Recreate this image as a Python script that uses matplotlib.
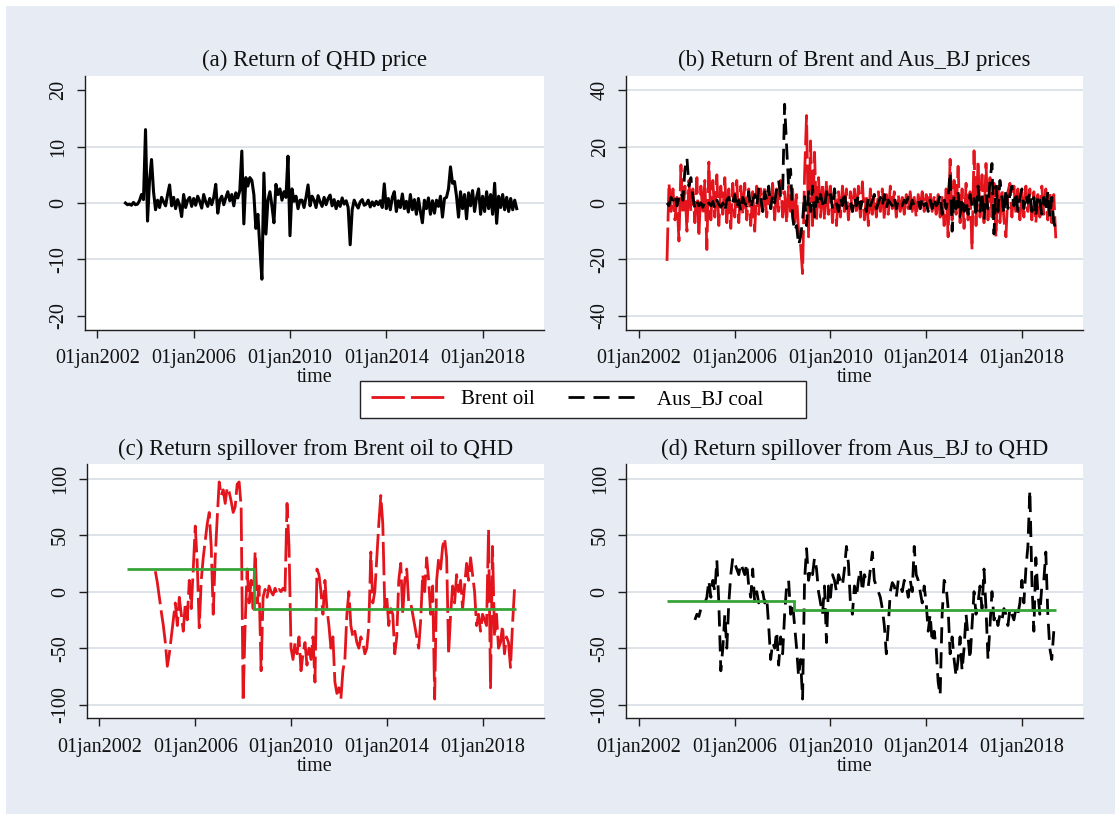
import numpy as np
import matplotlib
matplotlib.use("Agg")
import matplotlib.pyplot as plt
from matplotlib.lines import Line2D
from matplotlib.patches import Rectangle

plt.rcParams['font.family'] = ['Liberation Serif', 'DejaVu Serif']
plt.rcParams['axes.unicode_minus'] = False

# ---------------- data (monthly) ----------------
# returns: Mar 2003 .. Jun 2019
RET_START = (2003, 3)
qhd_return = [
    0.0, -0.3, -0.2, -0.4, 0.1, -0.3, -0.2, 0.4, 1.5, 0.6,                  # 2003
    13.0, -3.2, 4.0, 7.7, 2.0, -1.2, 0.5, -0.8, 1.0, 0.2, -0.5, 1.5,        # 2004
    3.2, -0.5, 1.0, -1.0, 0.6, -0.4, -2.4, 1.5, -0.8, 0.5, 1.0, -0.6,       # 2005
    0.8, -0.4, 1.2, 0.3, -0.9, 1.5, 0.2, -0.6, 0.8, -0.3, 1.0, 3.3,         # 2006
    -1.8, 0.5, 1.2, -0.3, 0.9, 2.0, 0.4, 1.5, -0.5, 1.8, 0.9, 2.2,          # 2007
    9.2, -3.7, 4.5, 3.0, 4.5, 4.0, 1.5, -4.5, -2.0, -8.0, -13.5, 5.3,       # 2008
    -5.5, 0.5, 2.0, -0.5, -3.5, 3.3, 1.5, 2.5, 0.5, 2.0, 1.0, 8.3,          # 2009
    -5.8, 2.5, 0.3, 1.2, -1.0, 0.5, 0.5, -0.8, 1.0, 3.2, -0.5, 1.2,         # 2010
    0.5, -0.8, 1.3, 0.2, -0.6, 1.0, -0.3, 0.8, 1.4, -0.5, 0.6, -1.0,        # 2011
    0.3, -0.6, 0.9, -0.2, 0.4, -0.8, -7.4, -1.2, 0.5, -0.3, -0.9, 0.2,      # 2012
    0.6, -0.4, -0.2, 0.5, -0.7, 0.2, -0.5, 0.3, -0.3, 0.4, -0.8, 3.4,       # 2013
    -1.0, 0.8, -1.2, 1.0, 2.0, -1.5, 0.4, -0.8, 1.6, -1.0, 0.3, -1.6,       # 2014
    1.5, -1.2, 0.6, -2.0, 0.8, -1.5, -3.5, 0.5, -1.0, 0.9, -2.0, 0.4,       # 2015
    -1.8, 0.5, -0.6, 1.2, -2.5, 0.8, 1.0, 2.5, 6.4, 3.5, 3.8, 1.2,          # 2016
    -2.5, 2.0, -1.0, 1.5, -2.8, 1.8, -0.5, 2.2, -1.5, 1.0, 2.5, -2.0,       # 2017
    1.2, -1.5, 2.0, -1.0, 1.5, -2.0, 3.5, -3.6, 1.2, -0.8, 1.5, -1.2,       # 2018
    1.0, -1.5, 0.8, -1.2, 0.5, -1.0,                                        # 2019
]
brent_return = [
    -20.5, 7.0, -3.0, 5.0, -6.0, 2.0, -13.5, 13.5, -4.0, 6.0,
    -10, 8, -3, 5, -7, 9, -12, 6, -4, 8, -16.5, 14.5,
    -6, 8, -5, 10, -8, 6, -4, 9, -7, 5, -9, 7,
    -5, 8, -7, 6, -4, 7, -6, 5, -8, 4, -10, 6,
    -4, 5, -3, 6, -5, 4, -2, 7, -6, 5, -3, 8,
    -5, 4, -7, 6, -3, 5, -8, 3, -10, -15, -25, 10,
    31, -12, 22, -8, 18, -6, 9, -5, 7, -6, 8, -4,
    6, -7, 5, -8, 4, -5, 6, -3, 5, -6, 4, -3,
    5, -4, 6, -5, 7.5, -6, 3, -8, 5, -4, 3, -5,
    4, -3, 5, -6, 3, -4, 6, -2, 4, -5, 3, -3,
    2, -4, 3, -2, 4, -3, 2, -5, 3, -2, 4, -3,
    3, -2, 4, -3, 2, -4, 3, -5, 2, -8, 5, -12,
    15.5, -6, 8, -4, 13, -7, 5, -9, 7, -6, 4, -16.5,
    18.5, -8, 15, -5, 10, -7, 14, -6, 9, -5, 7, -12,
    6, -7, 5, -6, -12, 4, 7, -5, 6, -4, 5, -6,
    4, -5, 6, -3, 5, -6, 4, -7, 3, -5, 6, -4,
    5, -6, 4, -7, 3, -12.5,
]
ausbj_return = [
    0, -1, 2, 1, 3, -1, 2, 4, 1, 12,
    16, 6, 9, 2, -2, 0.5, -1, 0, -1.5, 0.5, -1, 0,
    -1, 0.5, -2, 1, -0.5, -1.5, 0, -3, 1, 2, -1, 0.5,
    3, -2, 1, -3, 2, 0, -1, 4, -2, 1, 3, -1,
    5, 2, -3, 4, 1, 6, -2, 3, 0, 5, 8, 2,
    3, 35, 20, 6, 12, -5, -10, -8, -15, -12, -6, 3,
    -8, 4, -3, 6, -5, 2, -1, 3, 0, -2, 4, 1,
    3, -2, 5, 0, -3, 2, -1, 4, -2, 1, 0, -3,
    2, -1, 3, -2, 1, 0, -3, 2, -1, 1, 3, -2,
    0, 2, -1, 3, -2, 1, 0, -1, 2, -2, 1, 0,
    -1, 1, 0, 2, -2, 1, -1, 0, 1, -2, 2, -1,
    0, -3, 1, -2, 2, -1, 0, 3, -4, 1, -2, 2,
    11, -10, 3, -2, 4, -5, 2, -3, 1, -4, 3, -1,
    2, -5, 6, -3, 4, -6, 3, -2, 8, 14, -11, 6,
    -3, 8, 2, -4, 5, -2, 3, 6, -1, 4, -3, 2,
    5, -2, 3, 0, 4, -3, 2, -5, 3, 1, -4, 2,
    -3, 4, -5, 2, -7, -9,
]

# spillovers: May 2004 .. May 2019
SPILL_START = (2004, 5)
spill_brent = [
    18, 8, -5, -18, -30, -45, -66, -55,
    -40, -25, -10, -30, -5, -20, -35, -10, -25, 10, -15, 20,
    58, 25, -32, 10, 30, 45, 60, 70, 40, -20, 30, 65,
    97, 85, 90, 78, 92, 88, 80, 70, 75, 95, 97, 75,
    -97, -30, 20, -10, 10, -15, 35, -10, 5, -70, -5, 2,
    -5, 5, 0, -3, 3, -2, 2, 0, 3, 1, 78, 40,
    -50, -60, -45, -55, -40, -70, -55, -45, -65, -50, -60, -40,
    -80, 20, 15, 0, -20, 10, -15, -30, -50, -40, -80, -90,
    -85, -95, -70, -60, -20, 0, -30, -40, -35, -45, -50, -40,
    -45, -55, -50, -30, 35, -10, 0, 30, 60, 85, 60, -15,
    -5, -30, -15, -20, -55, -40, 10, 25, -20, 10, 20, -10,
    -10, -20, -30, -40, -50, -25, 15, 0, 30, 10, -20, 5,
    -95, 10, 30, 20, 40, 47, 30, -55, -20, 5, -10, 15,
    0, 10, -15, 5, 25, 10, 30, 15, 0, -30, -20, -35,
    -20, -25, -30, 55, -85, 40, -40, -20, -50, -45, -30, -55,
    -40, -45, -67, -30, 2,
]
spill_ausbj = [
    -25, -20, -22, -15, -12, -10, -5, 10,
    -5, 10, 0, 28, -10, -70, -50, -20, -50, -10, 15, 30,
    25, 20, 15, 25, 20, 15, 25, 5, -5, 20, -10, 0,
    -10, -5, 0, -10, -5, -30, -60, -45, -50, -35, -65, -40,
    -55, -20, 5, 10, -20, -10, -30, -50, -75, -60, -95, 10,
    38, 10, 20, 15, 30, 20, 0, -10, -20, 5, -45, 5,
    -5, 15, 10, 0, 15, 10, 5, 20, 40, 25, -10, -20,
    5, -5, 10, 20, 0, 15, 10, 5, 20, 35, 10, 5,
    0, -5, -15, -30, -55, -30, 0, 8, 5, -5, 10, 5,
    0, 10, 5, -5, 10, 0, 40, 15, 10, 0, -10, 5,
    -10, -35, -20, -45, -35, -50, -80, -92, -20, 10, 5, -15,
    -55, -40, -60, -75, -60, -40, -70, -50, -20, -40, -60, -30,
    0, -20, -10, 5, -15, 20, -15, -60, -30, 0, -25, -20,
    -30, -20, -25, -15, -20, -30, -15, -20, -25, -15, -20, -10,
    10, -10, 20, 40, 90, 10, -35, 30, 0, -20, 5, 10,
    35, -20, -50, -60, -35,
]

# constant (regime) spillover levels and their break dates (decimal years)
regime_brent = [20, -15]
regime_brent_edges = [2003.14, 2008.45, 2019.38]
regime_ausbj = [-8, -16]
regime_ausbj_edges = [2003.16, 2008.49, 2019.41]

tick_years = [2002, 2006, 2010, 2014, 2018]
tick_labels = ['01jan2002', '01jan2006', '01jan2010', '01jan2014', '01jan2018']

titles = ['(a) Return of QHD price', '(b) Return of Brent and Aus_BJ prices',
          '(c) Return spillover from Brent oil to QHD',
          '(d) Return spillover from Aus_BJ to QHD']
legend_labels = ['Brent oil', 'Aus_BJ coal']

# ---------------- helpers ----------------
def monthly_time(start, n):
    y, m = start
    return y + (m - 1 + np.arange(n)) / 12.0

RED = '#E3141C'
GREEN = '#36A436'
BG = '#E7EBF3'
GRID = '#DEE3EA'
AXC = '#1E1E1E'
LW = 2.0
RED_DASH = (12, 2.2)
BLK_DASH = (5.8, 3.2)

W, H = 1115, 814
fig = plt.figure(figsize=(W / 100, H / 100), dpi=100, facecolor='white')
fig.add_artist(Rectangle((6 / W, 0), 1 - 6 / W, 1 - 6 / H, transform=fig.transFigure,
                         facecolor=BG, edgecolor='none', zorder=-10))


def ax_at(x0, y0, x1, y1):
    return fig.add_axes([x0 / W, 1 - y1 / H, (x1 - x0) / W, (y1 - y0) / H])


def style(ax, yticks, ylim, grid_vals, title):
    ax.set_facecolor('white')
    for s in ('top', 'right'):
        ax.spines[s].set_visible(False)
    for s in ('left', 'bottom'):
        ax.spines[s].set_color(AXC)
        ax.spines[s].set_linewidth(1.0)
    ax.set_xlim(2001.47, 2020.55)
    ax.set_ylim(*ylim)
    ax.set_xticks(tick_years)
    ax.set_xticklabels(tick_labels)
    ax.set_yticks(yticks)
    ax.set_yticklabels([str(v) for v in yticks], rotation=90, va='center')
    ax.tick_params(direction='out', length=6, width=1.0, color=AXC,
                   labelsize=14.5, labelcolor='#111111')
    ax.tick_params(axis='x', pad=8)
    ax.tick_params(axis='y', pad=6)
    for g in grid_vals:
        ax.axhline(g, color=GRID, lw=1.4, zorder=0)
    ax.set_xlabel('time', fontsize=14.5, labelpad=0, color='#111111')
    ax.set_title(title, fontsize=16.5, pad=7, color='#111111')


ax_a = ax_at(84.6, 76, 544, 330)
ax_b = ax_at(626.4, 76, 1082.9, 330)
ax_c = ax_at(86.8, 464.3, 543.6, 718.3)
ax_d = ax_at(626.4, 464.3, 1082.9, 718.3)

style(ax_a, [-20, -10, 0, 10, 20], (-22.5, 22.5), [-10, 0, 10], titles[0])
style(ax_b, [-40, -20, 0, 20, 40], (-45, 45), [-40, -20, 0, 20, 40], titles[1])
style(ax_c, [-100, -50, 0, 50, 100], (-112, 112.6), [-100, -50, 0, 50, 100], titles[2])
style(ax_d, [-100, -50, 0, 50, 100], (-112, 112.6), [-100, -50, 0, 50, 100], titles[3])

t_ret = monthly_time(RET_START, len(qhd_return))
ax_a.plot(t_ret, qhd_return, color='black', lw=2.2, zorder=3)

ax_b.plot(monthly_time(RET_START, len(brent_return)), brent_return, color=RED, lw=LW,
          dashes=RED_DASH, zorder=3)
ax_b.plot(monthly_time(RET_START, len(ausbj_return)), ausbj_return, color='black', lw=LW,
          dashes=BLK_DASH, zorder=4)

ax_c.plot(monthly_time(SPILL_START, len(spill_brent)), spill_brent, color=RED, lw=LW,
          dashes=RED_DASH, zorder=3)
ax_c.stairs(regime_brent, regime_brent_edges, baseline=None, color=GREEN, lw=2.0, zorder=4)

ax_d.plot(monthly_time(SPILL_START, len(spill_ausbj)), spill_ausbj, color='black', lw=LW,
          dashes=BLK_DASH, zorder=3)
ax_d.stairs(regime_ausbj, regime_ausbj_edges, baseline=None, color=GREEN, lw=2.0, zorder=4)

# legend box
fig.add_artist(Rectangle((360 / W, 1 - 418 / H), 446 / W, 37 / H, transform=fig.transFigure,
                         facecolor='white', edgecolor='#222222', lw=1.0, zorder=5))
handles = [Line2D([], [], color=RED, lw=LW, dashes=RED_DASH),
           Line2D([], [], color='black', lw=LW, dashes=BLK_DASH)]
leg = fig.legend(handles, legend_labels, loc='center left',
                 bbox_to_anchor=(371 / W, 1 - 399.5 / H), ncol=2, frameon=False,
                 borderpad=0, borderaxespad=0, handlelength=3.5, handletextpad=0.8,
                 columnspacing=1.6, fontsize=15)
leg.set_zorder(6)

fig.savefig('out.png', dpi=100, facecolor=fig.get_facecolor())
